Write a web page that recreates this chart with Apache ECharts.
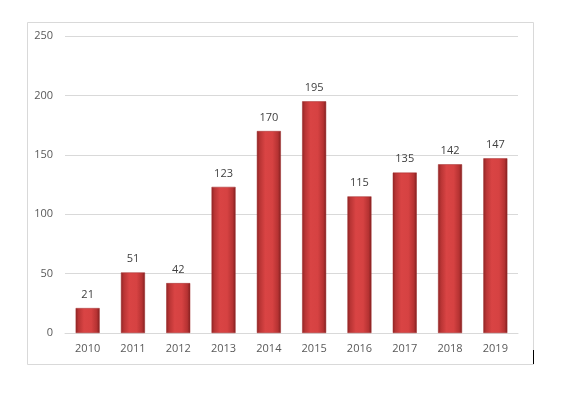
<!DOCTYPE html>
<html><head><meta charset="utf-8">
<script src="https://cdn.jsdelivr.net/npm/echarts@6/dist/echarts.min.js"></script>
<style>html,body{margin:0;padding:0;background:#fff}#c{width:564px;height:394px}</style>
</head><body><div id="c"></div>
<script>
const years = ['2010','2011','2012','2013','2014','2015','2016','2017','2018','2019'];
const counts = [21, 51, 42, 123, 170, 195, 115, 135, 142, 147];
const yTicks = {min: 0, max: 250, interval: 50};

const chart = echarts.init(document.getElementById('c'));
chart.setOption({
  animation: false,
  backgroundColor: '#fff',
  grid: {left: 65, right: 46, top: 36, bottom: 61},
  graphic: [
    {type: 'rect', shape: {x: 27.5, y: 22.5, width: 506, height: 342}, style: {fill: 'none', stroke: '#d9d9d9', lineWidth: 1}, z: -1},
    {type: 'line', shape: {x1: 533.5, y1: 350, x2: 533.5, y2: 364}, style: {stroke: '#000', lineWidth: 1}}
  ],
  xAxis: {
    type: 'category', data: years,
    axisLine: {lineStyle: {color: '#d9d9d9'}},
    axisTick: {show: false},
    axisLabel: {color: '#595959', fontSize: 11, margin: 10, fontFamily: 'Open Sans, sans-serif'}
  },
  yAxis: {
    type: 'value', min: yTicks.min, max: yTicks.max, interval: yTicks.interval,
    axisLine: {show: false}, axisTick: {show: false},
    splitLine: {lineStyle: {color: '#d9d9d9'}},
    axisLabel: {color: '#595959', fontSize: 11, margin: 12, fontFamily: 'Open Sans, sans-serif'}
  },
  series: [{
    type: 'bar', data: counts, barWidth: 24,
    itemStyle: {
      color: new echarts.graphic.LinearGradient(0, 0, 1, 0, [
        {offset: 0, color: '#8e2424'},
        {offset: 0.12, color: '#b83434'},
        {offset: 0.35, color: '#d94444'},
        {offset: 0.65, color: '#d64242'},
        {offset: 0.88, color: '#b53232'},
        {offset: 1, color: '#7e1f1f'}
      ]),
      borderColor: '#a02a2a', borderWidth: 0.5
    },
    label: {show: true, position: 'top', distance: 8, color: '#404040', fontSize: 11, fontFamily: 'Open Sans, sans-serif'}
  }]
});
</script></body></html>
